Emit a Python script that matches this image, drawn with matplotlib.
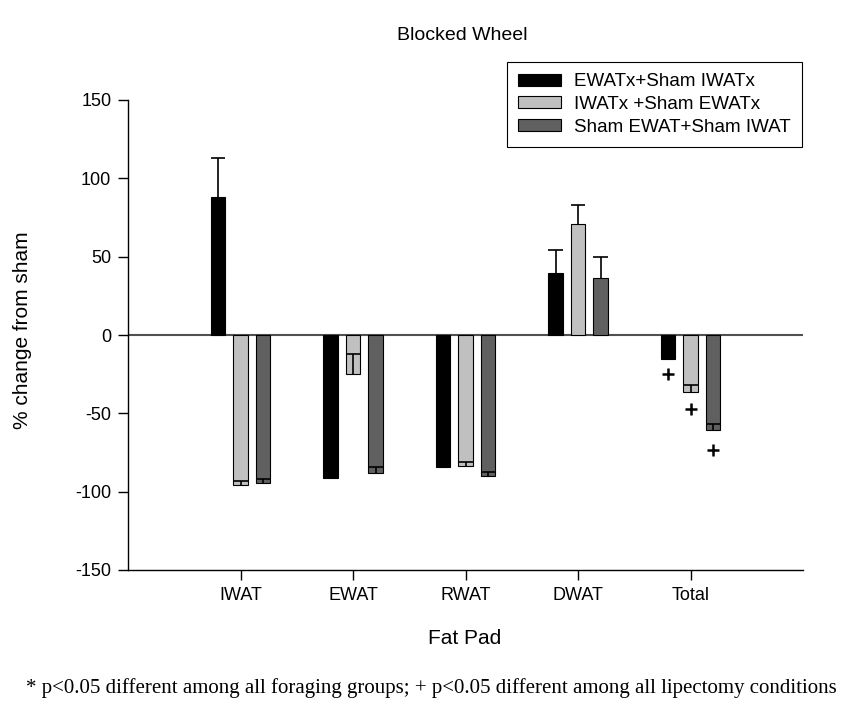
import numpy as np
import matplotlib
matplotlib.use('Agg')
import matplotlib.pyplot as plt

plt.rcParams['font.family'] = ['Liberation Sans', 'DejaVu Sans']
plt.rcParams['axes.unicode_minus'] = False

# data
fat_pads = ['IWAT', 'EWAT', 'RWAT', 'DWAT', 'Total']
labels = ['EWATx+Sham IWATx', 'IWATx +Sham EWATx', 'Sham EWAT+Sham IWAT']
ewatx = [87.9, -91.3, -84.2, 39.8, -15.5]
ewatx_err = [25.0, 1.0, 1.0, 14.5, 1.0]
iwatx = [-95.5, -25.1, -83.6, 70.6, -36.2]
iwatx_err = [2.1, 12.8, 2.3, 12.4, 4.5]
sham = [-94.6, -88.3, -89.8, 36.2, -60.8]
sham_err = [2.9, 3.8, 2.4, 13.4, 4.0]
# "+" markers below the Total bars
plus_vals = [-25.0, -47.5, -73.5]

colors = ['#000000', '#c0c0c0', '#606060']

fig = plt.figure(figsize=(8.49, 7.22), dpi=100)
ax = fig.add_axes([128/849, 1-570/722, 675/849, 470/722])

x = np.arange(1, len(fat_pads)+1)
w = 0.125
offs = [-0.2, 0.0, 0.2]
series = [(ewatx, ewatx_err), (iwatx, iwatx_err), (sham, sham_err)]

ax.axhline(0, color='#505050', lw=1.5, zorder=1)
for i, (vals, errs) in enumerate(series):
    xs = x + offs[i]
    vals = np.array(vals)
    errs = np.array(errs)
    ax.bar(xs, vals, w, color=colors[i], edgecolor='black', lw=0.8,
           label=labels[i], zorder=2)
    # error bars only in the + direction, cap at the top end
    ax.vlines(xs, vals, vals+errs, color='black', lw=1.2, zorder=3)
    ax.hlines(vals+errs, xs-w/2, xs+w/2, color='black', lw=1.2, zorder=3)

ax.plot(5+np.array(offs), plus_vals, ls='none', marker='+', ms=9, mew=1.8,
        color='black', zorder=4)

ax.set_xlim(0, 6)
ax.set_ylim(-150, 150)
ax.set_yticks([-150, -100, -50, 0, 50, 100, 150])
ax.set_xticks(x)
ax.set_xticklabels(fat_pads)
ax.tick_params(direction='out', length=7, width=1, labelsize=13, pad=5)
ax.spines['top'].set_visible(False)
ax.spines['right'].set_visible(False)
for s in ['left', 'bottom']:
    ax.spines[s].set_linewidth(1)

fig.text(462/849, 1-35/722, 'Blocked Wheel', ha='center', va='center', fontsize=14)
fig.text(465/849, 1-638/722, 'Fat Pad', ha='center', va='center', fontsize=15)
fig.text(23/849, 1-330/722, '% change from sham', ha='center', va='center',
         rotation=90, fontsize=15)
fig.text(431/849, 1-688/722,
         '* p<0.05 different among all foraging groups; + p<0.05 different among all lipectomy conditions',
         ha='center', va='center', fontsize=15, family=['Liberation Serif', 'DejaVu Serif'])

leg = ax.legend(loc='upper right', bbox_to_anchor=(802/849, 1-62/722),
                bbox_transform=fig.transFigure, fontsize=13.5, fancybox=False,
                edgecolor='black', framealpha=1, borderpad=0.6, labelspacing=0.3,
                handlelength=2.3, handleheight=0.6, handletextpad=0.7,
                borderaxespad=0)
leg.get_frame().set_linewidth(0.8)

fig.savefig('out.png', dpi=100)
